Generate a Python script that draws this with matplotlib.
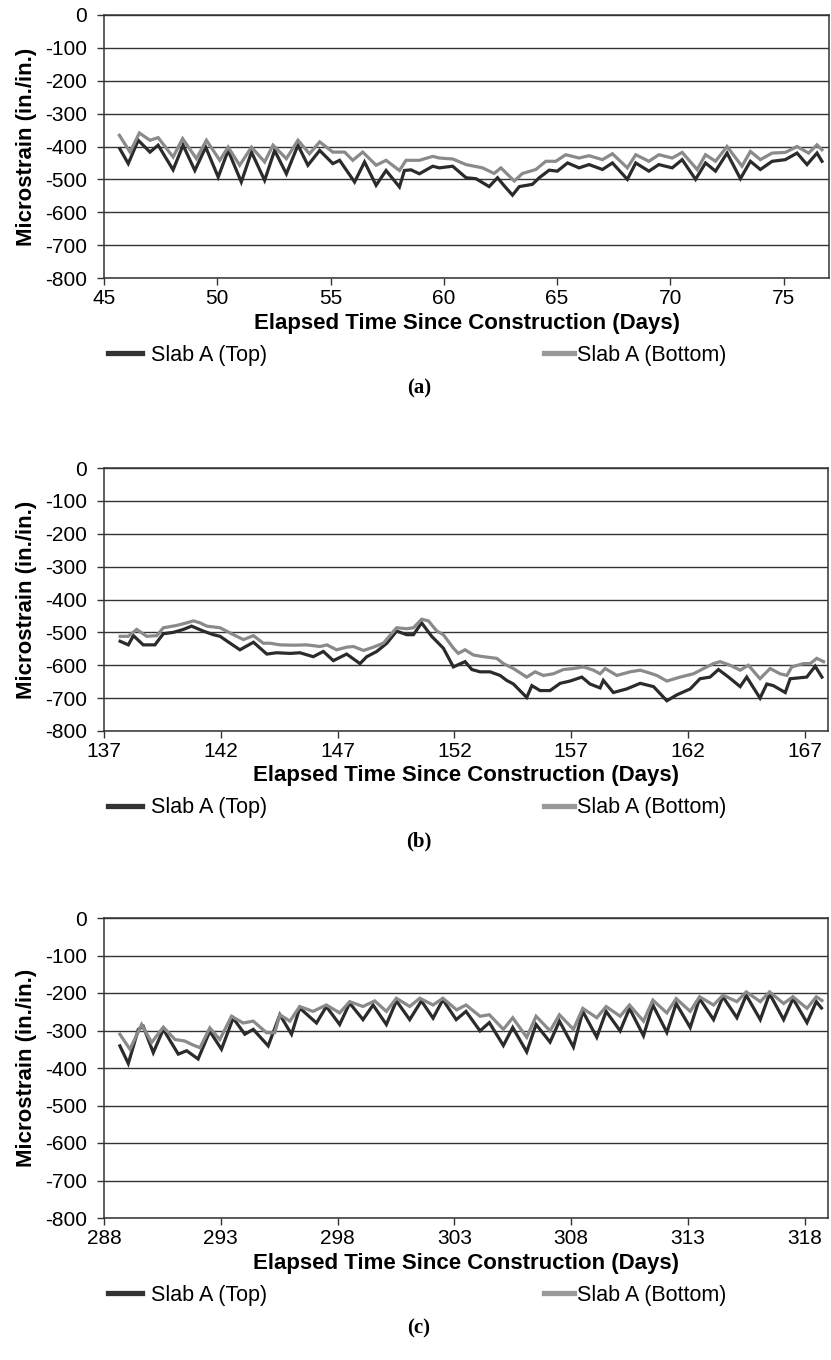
import matplotlib
matplotlib.use("Agg")
from matplotlib import pyplot as plt
from matplotlib.lines import Line2D

plt.rcParams['font.family'] = ['Liberation Sans', 'DejaVu Sans']

# ---- panel (a) ----------------------------------------------------------------
a_top_days = [45.70, 46.07, 46.51, 47.03, 47.39, 48.05, 48.49, 49.01, 49.49, 50.04,
              50.48, 51.06, 51.51, 52.09, 52.53, 53.05, 53.56, 54.00, 54.52, 55.10,
              55.40, 56.06, 56.50, 57.01, 57.45, 58.04, 58.26, 58.55, 58.92, 59.51,
              59.80, 60.39, 60.98, 61.42, 62.00, 62.37, 62.67, 63.03, 63.33, 63.91,
              64.21, 64.65, 65.01, 65.46, 65.97, 66.41, 67.00, 67.44, 68.10, 68.47,
              69.05, 69.49, 70.08, 70.52, 71.11, 71.55, 71.99, 72.50, 73.09, 73.53,
              73.97, 74.49, 75.07, 75.59, 76.03, 76.47, 76.69]
a_top = [-407, -452, -381, -417, -396, -471, -396, -473, -402, -493,
         -412, -508, -417, -503, -412, -483, -396, -457, -412, -452,
         -442, -508, -447, -518, -473, -523, -473, -471, -483, -460,
         -465, -460, -495, -498, -522, -495, -520, -548, -522, -515,
         -495, -472, -475, -450, -465, -455, -470, -450, -500, -450,
         -475, -455, -465, -440, -500, -450, -475, -420, -498, -445,
         -470, -445, -440, -420, -455, -420, -445]
a_bot_days = [45.68, 46.15, 46.56, 47.03, 47.39, 48.05, 48.47, 49.08, 49.52, 50.11,
              50.48, 50.99, 51.51, 52.09, 52.46, 53.05, 53.56, 54.07, 54.52, 55.10,
              55.62, 55.98, 56.42, 57.01, 57.45, 58.04, 58.33, 58.92, 59.51,
              59.80, 60.39, 60.98, 61.71, 62.22, 62.52, 63.11, 63.47, 64.06, 64.50,
              64.94, 65.38, 65.97, 66.41, 67.00, 67.44, 68.10, 68.47, 69.05, 69.49,
              70.08, 70.52, 71.18, 71.55, 71.99, 72.50, 73.16, 73.53, 73.97, 74.49,
              75.07, 75.59, 76.10, 76.47, 76.69]
a_bot = [-366, -417, -359, -381, -373, -432, -376, -437, -381, -442,
         -402, -457, -402, -447, -396, -437, -381, -422, -386, -417,
         -417, -442, -417, -457, -442, -473, -442, -442, -430,
         -435, -438, -455, -465, -482, -465, -505, -482, -470, -445,
         -445, -425, -435, -428, -440, -422, -465, -425, -445, -425,
         -435, -418, -470, -425, -445, -400, -460, -415, -440, -420,
         -418, -400, -420, -395, -410]
a_ticks = [45, 50, 55, 60, 65, 70, 75]

# ---- panel (b) ----------------------------------------------------------------
b_top_days = [137.69, 138.04, 138.26, 138.68, 139.18, 139.54, 139.97, 140.40, 140.75, 141.25,
              141.68, 141.97, 142.40, 142.82, 143.40, 143.97, 144.39, 144.97, 145.39, 145.96,
              146.39, 146.82, 147.39, 147.96, 148.25, 148.68, 149.11, 149.53,
              149.96, 150.25, 150.60, 151.03, 151.53, 151.96, 152.46, 152.75, 153.10, 153.53,
              153.96, 154.24, 154.53, 155.10, 155.32, 155.67, 156.10, 156.53, 156.96, 157.46,
              157.81, 158.24, 158.38, 158.81, 159.38, 159.96, 160.53, 161.10, 161.53, 162.10,
              162.52, 162.95, 163.31, 163.74, 164.24, 164.52, 165.09, 165.38, 165.66, 166.17,
              166.38, 167.09, 167.45, 167.74]
b_top = [-527, -538, -510, -538, -538, -504, -500, -491, -481, -496,
         -507, -512, -533, -553, -530, -566, -562, -564, -562, -574,
         -558, -586, -566, -595, -574, -558, -533, -496,
         -507, -507, -471, -512, -548, -605, -589, -613, -620, -620,
         -631, -646, -657, -698, -662, -677, -677, -655, -648, -636,
         -657, -669, -646, -683, -672, -655, -665, -708, -690, -672,
         -641, -636, -613, -636, -665, -636, -700, -657, -662, -683,
         -641, -636, -603, -636]
b_bot_days = [137.69, 138.04, 138.40, 138.83, 139.26, 139.54, 140.11, 140.54, 140.83, 141.11,
              141.40, 141.97, 142.54, 142.97, 143.40, 143.82, 144.11, 144.54, 145.11, 145.68,
              146.25, 146.54, 146.96, 147.39, 147.68, 148.11, 148.53, 148.96, 149.53,
              149.96, 150.25, 150.60, 150.89, 151.25, 151.53, 151.96, 152.17, 152.46, 152.82,
              153.25, 153.82, 154.10, 154.53, 155.10, 155.46, 155.81, 156.24, 156.67, 157.10,
              157.53, 157.96, 158.24, 158.46, 158.96, 159.53, 159.96, 160.38, 160.67, 161.10,
              161.67, 162.24, 162.67, 163.10, 163.38, 163.81, 164.24, 164.59, 165.09, 165.52,
              165.95, 166.24, 166.45, 166.95, 167.24, 167.52, 167.81]
b_bot = [-512, -512, -491, -512, -510, -486, -479, -471, -465, -471,
         -481, -486, -507, -522, -510, -533, -533, -538, -539, -538,
         -543, -538, -553, -545, -543, -555, -545, -533, -486,
         -489, -486, -460, -465, -496, -507, -548, -564, -553, -569,
         -574, -579, -595, -610, -636, -620, -631, -626, -613, -610,
         -605, -615, -626, -610, -631, -620, -615, -624, -631, -648,
         -636, -626, -610, -595, -589, -600, -615, -600, -641, -610,
         -626, -631, -605, -595, -595, -579, -589]
b_ticks = [137, 142, 147, 152, 157, 162, 167]

# ---- panel (c) ----------------------------------------------------------------
c_top_days = [288.68, 289.04, 289.47, 289.68, 290.11, 290.54, 291.18, 291.54, 292.03, 292.53,
              293.03, 293.53, 294.03, 294.39, 295.03, 295.53, 296.03, 296.38, 297.10, 297.52,
              298.09, 298.52, 299.09, 299.52, 300.09, 300.52, 301.09, 301.59, 302.09, 302.51,
              303.08, 303.50, 304.10, 304.50, 305.10, 305.50, 306.10, 306.50, 307.10, 307.50,
              308.10, 308.50, 309.10, 309.50, 310.10, 310.50, 311.10, 311.50, 312.10, 312.50,
              313.10, 313.50, 314.10, 314.50, 315.10, 315.50, 316.10, 316.50, 317.10, 317.50,
              318.10, 318.50, 318.72]
c_top = [-341, -388, -297, -289, -359, -297, -363, -354, -376, -302,
         -350, -267, -310, -297, -341, -258, -310, -240, -280, -236,
         -284, -227, -271, -232, -284, -221, -271, -221, -267, -218,
         -271, -249, -301, -279, -340, -292, -357, -284, -331, -275,
         -344, -249, -318, -249, -301, -241, -314, -232, -305, -228,
         -292, -215, -271, -210, -266, -206, -271, -202, -271, -215,
         -279, -223, -240]
c_bot_days = [288.68, 289.11, 289.61, 290.04, 290.54, 291.04, 291.46, 291.75, 292.11, 292.53,
              292.96, 293.46, 293.96, 294.39, 294.96, 295.31, 295.53, 295.96, 296.38, 296.95,
              297.52, 298.09, 298.52, 299.09, 299.59, 300.09, 300.52, 301.09, 301.52, 302.09,
              302.51,
              303.10, 303.50, 304.10, 304.50, 305.10, 305.50, 306.10, 306.50, 307.10, 307.50,
              308.10, 308.50, 309.10, 309.50, 310.10, 310.50, 311.10, 311.50, 312.10, 312.50,
              313.10, 313.50, 314.10, 314.50, 315.10, 315.50, 316.10, 316.50, 317.10, 317.50,
              318.10, 318.50, 318.74]
c_bot = [-310, -350, -284, -332, -291, -324, -328, -337, -346, -293,
         -324, -262, -280, -275, -306, -306, -258, -275, -236, -249,
         -232, -253, -223, -236, -221, -249, -214, -236, -214, -232,
         -214,
         -245, -232, -262, -258, -297, -266, -318, -262, -301, -258,
         -297, -241, -266, -236, -262, -232, -275, -219, -253, -215,
         -249, -210, -232, -206, -223, -197, -223, -197, -228, -210,
         -241, -210, -220]
c_ticks = [288, 293, 298, 303, 308, 313, 318]

y_ticks = [0, -100, -200, -300, -400, -500, -600, -700, -800]

W, H = 831, 1360
DARK = '#2b2b2b'
GRAY = '#8a8a8a'
EDGE = '#333333'

fig = plt.figure(figsize=(W / 100, H / 100), dpi=100)


def draw_panel(top_px, bottom_px, right_px, xlim, ticks, d_top, v_top, d_bot, v_bot, letter):
    left_px = 104
    ax = fig.add_axes([left_px / W, 1 - bottom_px / H, (right_px - left_px) / W, (bottom_px - top_px) / H])
    ax.plot(d_top, v_top, color=DARK, lw=2.3, solid_joinstyle='miter', zorder=3)
    ax.plot(d_bot, v_bot, color=GRAY, lw=2.3, solid_joinstyle='miter', zorder=3)
    ax.set_xlim(xlim)
    ax.set_ylim(-800, 0)
    ax.set_xticks(ticks)
    ax.set_xticklabels([str(t) for t in ticks])
    ax.set_yticks(y_ticks)
    ax.set_yticklabels([str(t) for t in y_ticks])
    ax.yaxis.grid(True, color=EDGE, lw=1.0)
    ax.set_axisbelow(True)
    for s in ax.spines.values():
        s.set_color(EDGE)
        s.set_linewidth(1.1)
    ax.tick_params(axis='both', direction='out', length=5, width=1.0, color=EDGE, labelsize=15)
    ax.tick_params(axis='y', pad=7)
    ax.tick_params(axis='x', pad=3)
    h = bottom_px - top_px
    w = right_px - left_px
    ax.set_ylabel('Microstrain (in./in.)', fontsize=16, fontweight='bold')
    ax.yaxis.set_label_coords((26 - left_px) / w, 0.5)
    ax.yaxis.label.set_va('center')
    ax.set_xlabel('Elapsed Time Since Construction (Days)', fontsize=16, fontweight='bold')
    ax.xaxis.set_label_coords(0.5, -45 / h)
    ax.xaxis.label.set_va('center')

    ly = 1 - (bottom_px + 77) / H
    h1 = Line2D([], [], color='#333333', lw=3.8)
    h2 = Line2D([], [], color='#999999', lw=3.8)
    fig.legend(handles=[h1], labels=['Slab A (Top)'], loc='center left', bbox_to_anchor=(108 / W, ly),
               frameon=False, borderaxespad=0, borderpad=0, handlelength=1.6, handletextpad=0.4, fontsize=15.5)
    fig.legend(handles=[h2], labels=['Slab A (Bottom)'], loc='center left', bbox_to_anchor=(544 / W, ly),
               frameon=False, borderaxespad=0, borderpad=0, handlelength=1.4, handletextpad=0.15, fontsize=15.5)
    fig.text(419 / W, 1 - (bottom_px + 110) / H, letter, ha='center', va='center',
             fontsize=15, fontweight='bold', family=['Liberation Serif', 'DejaVu Serif'])
    return ax


draw_panel(15, 278, 829, (45, 77), a_ticks, a_top_days, a_top, a_bot_days, a_bot, '(a)')
draw_panel(468, 731, 828, (137, 168), b_ticks, b_top_days, b_top, b_bot_days, b_bot, '(b)')
draw_panel(918, 1218, 828, (288, 319), c_ticks, c_top_days, c_top, c_bot_days, c_bot, '(c)')

fig.savefig('out.png', dpi=100)
